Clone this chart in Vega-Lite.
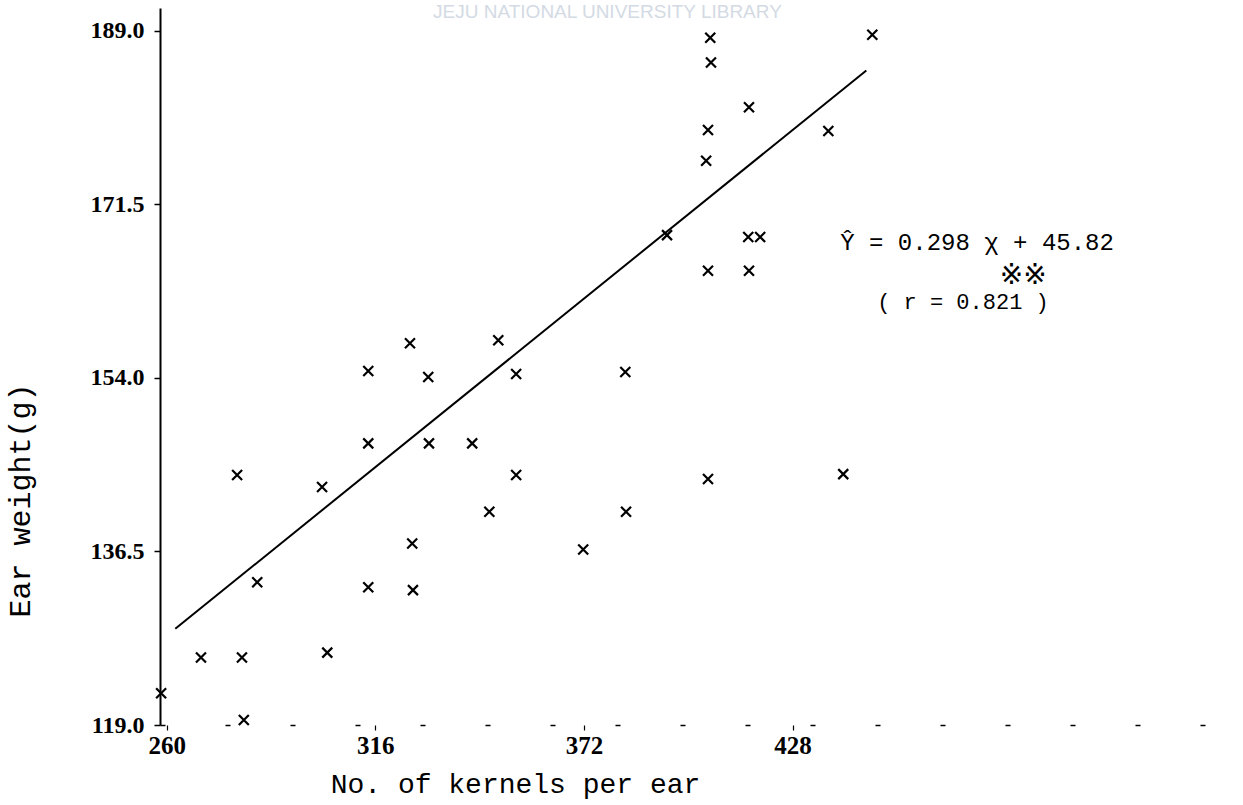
{
  "$schema": "https://vega.github.io/schema/vega-lite/v6.json",
  "autosize": "none",
  "width": 1077,
  "height": 717,
  "padding": {"left": 160, "top": 8, "right": 6, "bottom": 80},
  "background": "white",
  "config": {"view": {"stroke": null}},
  "datasets": {
    "pts": [
      {"kernels": 258.5, "weight": 122.2},
      {"kernels": 269.2, "weight": 125.8},
      {"kernels": 280.2, "weight": 125.8},
      {"kernels": 280.7, "weight": 119.5},
      {"kernels": 278.9, "weight": 144.2},
      {"kernels": 284.3, "weight": 133.4},
      {"kernels": 303.1, "weight": 126.3},
      {"kernels": 301.7, "weight": 143.0},
      {"kernels": 314.1, "weight": 132.9},
      {"kernels": 314.1, "weight": 147.4},
      {"kernels": 314.1, "weight": 154.7},
      {"kernels": 325.3, "weight": 157.5},
      {"kernels": 325.9, "weight": 137.3},
      {"kernels": 326.1, "weight": 132.6},
      {"kernels": 330.2, "weight": 154.1},
      {"kernels": 330.4, "weight": 147.4},
      {"kernels": 342.0, "weight": 147.4},
      {"kernels": 346.6, "weight": 140.5},
      {"kernels": 349.0, "weight": 157.8},
      {"kernels": 353.8, "weight": 154.4},
      {"kernels": 353.8, "weight": 144.2},
      {"kernels": 371.8, "weight": 136.7},
      {"kernels": 383.3, "weight": 140.5},
      {"kernels": 383.1, "weight": 154.6},
      {"kernels": 394.3, "weight": 168.4},
      {"kernels": 405.3, "weight": 143.8},
      {"kernels": 405.3, "weight": 164.8},
      {"kernels": 404.8, "weight": 175.9},
      {"kernels": 405.3, "weight": 179.0},
      {"kernels": 406.1, "weight": 185.8},
      {"kernels": 405.9, "weight": 188.3},
      {"kernels": 416.3, "weight": 181.3},
      {"kernels": 416.3, "weight": 164.8},
      {"kernels": 416.1, "weight": 168.2},
      {"kernels": 419.3, "weight": 168.2},
      {"kernels": 437.6, "weight": 178.9},
      {"kernels": 441.6, "weight": 144.3},
      {"kernels": 449.4, "weight": 188.6}
    ],
    "fit": [
      {"kernels": 262.3, "weight": 128.7},
      {"kernels": 447.8, "weight": 185.0}
    ],
    "notes": [
      {"label": "Ŷ  =  0.298 χ + 45.82", "nx": 440.8, "ny": 167.6}
    ],
    "notes2": [
      {"label": "( r = 0.821  )", "nx": 450.7, "ny": 161.7}
    ],
    "stars": [
      {"label": "※※", "nx": 489.9, "ny": 164.3}
    ],
    "wm": [
      {"label": "JEJU NATIONAL UNIVERSITY LIBRARY", "nx": 331.5, "ny": 190.9}
    ]
  },
  "layer": [
    {
      "data": {"name": "fit"},
      "mark": {"type": "line", "color": "black", "strokeWidth": 2},
      "encoding": {
        "x": {
          "field": "kernels", "type": "quantitative",
          "scale": {"domain": [258.2, 547.3], "nice": false, "zero": false},
          "axis": {
            "title": "No. of kernels per ear",
            "titleFont": "Liberation Mono", "titleFontSize": 28, "titleFontWeight": "normal",
            "titleColor": "black", "titleAnchor": "start", "titleAlign": "center",
            "titleX": 355, "titleY": 67, "titleBaseline": "alphabetic",
            "values": [260, 316, 372, 428],
            "labelFont": "Liberation Serif", "labelFontSize": 25, "labelFontWeight": "bold",
            "labelColor": "black", "labelPadding": 3,
            "tickColor": "black", "tickSize": 5, "tickWidth": 1.2,
            "domainColor": "black", "domainWidth": 1.5, "domainDash": [5, 60],
            "grid": false
          }
        },
        "y": {
          "field": "weight", "type": "quantitative",
          "scale": {"domain": [119, 191.3], "nice": false, "zero": false},
          "axis": {
            "title": "Ear weight(g)",
            "titleFont": "Liberation Mono", "titleFontSize": 30, "titleFontWeight": "normal",
            "titleColor": "black", "titleAngle": 270, "titleAlign": "center",
            "titleX": -131, "titleY": 492, "titleBaseline": "alphabetic",
            "values": [119, 136.5, 154, 171.5, 189],
            "format": ".1f",
            "labelFont": "Liberation Serif", "labelFontSize": 24, "labelFontWeight": "bold",
            "labelColor": "black", "labelPadding": 10,
            "tickColor": "black", "tickSize": 6, "tickWidth": 1.5,
            "domainColor": "black", "domainWidth": 2,
            "grid": false
          }
        }
      }
    },
    {
      "data": {"name": "pts"},
      "mark": {
        "type": "point",
        "shape": "M-1,-1L1,1M-1,1L1,-1",
        "filled": false,
        "stroke": "black",
        "strokeWidth": 2.2,
        "size": 100,
        "opacity": 1
      },
      "encoding": {
        "x": {"field": "kernels", "type": "quantitative"},
        "y": {"field": "weight", "type": "quantitative"}
      }
    },
    {
      "data": {"name": "notes"},
      "mark": {"type": "text", "align": "left", "baseline": "middle",
               "font": "Liberation Mono", "fontSize": 24, "fontWeight": "normal", "color": "black"},
      "encoding": {
        "x": {"field": "nx", "type": "quantitative"},
        "y": {"field": "ny", "type": "quantitative"},
        "text": {"field": "label"}
      }
    },
    {
      "data": {"name": "notes2"},
      "mark": {"type": "text", "align": "left", "baseline": "middle",
               "font": "Liberation Mono", "fontSize": 22, "fontWeight": "normal", "color": "black"},
      "encoding": {
        "x": {"field": "nx", "type": "quantitative"},
        "y": {"field": "ny", "type": "quantitative"},
        "text": {"field": "label"}
      }
    },
    {
      "data": {"name": "stars"},
      "mark": {"type": "text", "align": "center", "baseline": "middle",
               "font": "DejaVu Sans", "fontSize": 28, "color": "black"},
      "encoding": {
        "x": {"field": "nx", "type": "quantitative"},
        "y": {"field": "ny", "type": "quantitative"},
        "text": {"field": "label"}
      }
    },
    {
      "data": {"name": "wm"},
      "mark": {"type": "text", "align": "left", "baseline": "middle",
               "font": "Liberation Sans", "fontSize": 19, "color": "#d3dae4", "clip": false},
      "encoding": {
        "x": {"field": "nx", "type": "quantitative"},
        "y": {"field": "ny", "type": "quantitative"},
        "text": {"field": "label"}
      }
    }
  ]
}
